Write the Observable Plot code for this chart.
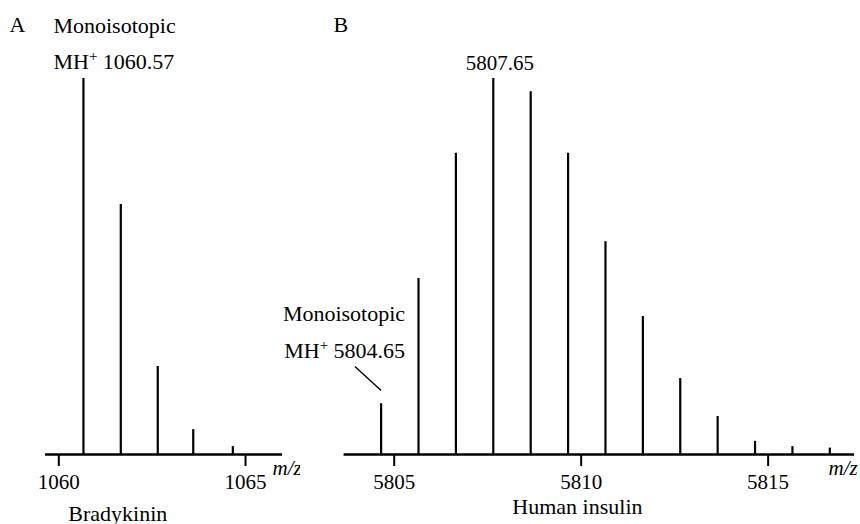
<!DOCTYPE html>
<html>
<head>
<meta charset="utf-8">
<script src="https://cdn.jsdelivr.net/npm/d3@7"></script>
<script src="https://cdn.jsdelivr.net/npm/@observablehq/plot@0.6"></script>
<style>
  html, body { margin: 0; padding: 0; background: #fff; }
  #wrap { position: relative; width: 860px; height: 524px; display: flex; }
  svg { display: block; }
  #wrap svg, #wrap svg text { font-family: "Liberation Serif", "Times New Roman", "DejaVu Serif", serif !important; }
</style>
</head>
<body>
<div id="wrap"></div>
<script>
// ---- Data ----
const bradyMz = [1060.66, 1061.66, 1062.65, 1063.60, 1064.66];
const bradyInt = [100, 66.5, 23.4, 6.6, 2.1];
const insulinMz = [5804.65, 5805.65, 5806.65, 5807.65, 5808.65, 5809.65, 5810.65, 5811.65, 5812.65, 5813.65, 5814.65, 5815.65, 5816.65];
const insulinInt = [13.5, 46.8, 80.1, 100, 96.5, 80.1, 56.6, 36.7, 20.2, 10.1, 3.5, 2.1, 1.7];
const ticksA = [1060, 1065];
const ticksB = [5805, 5810, 5815];
const domainA = [1059.644, 1065.99];
const domainB = [5803.66, 5817.31];
const panelLetters = ["A", "B"];
const compoundNames = ["Bradykinin", "Human insulin"];
const compoundNameAt = [1061.58, 5809.9];
const monoLabels = ["MH+ 1060.57", "MH+ 5804.65"];
const apexLabelB = "5807.65";
const leaderB = [{x1: 5803.95, y1: 23.4, x2: 5804.65, y2: 17.0}];

const A = bradyMz.map((mz, i) => ({mz, int: bradyInt[i]}));
const B = insulinMz.map((mz, i) => ({mz, int: insulinInt[i]}));

const FONT = "Liberation Serif, serif";
const common = {
  height: 524,
  marginTop: 78,
  marginBottom: 70,
  y: {domain: [0, 100], axis: null},
  style: {fontFamily: FONT, fontSize: "21px", background: "white", color: "black", overflow: "visible"}
};
const lineW = 2.2;

function axis(ticks) {
  return Plot.axisX({ticks, tickSize: 12, tickPadding: 8, strokeWidth: 2, fontSize: 21, label: null, tickFormat: d => String(d)});
}

const plotA = Plot.plot({
  ...common,
  width: 300,
  marginLeft: 45,
  marginRight: 18,
  x: {domain: domainA},
  marks: [
    Plot.ruleX(A, {x: "mz", y1: 0, y2: "int", strokeWidth: lineW, stroke: "black"}),
    Plot.ruleY([0], {strokeWidth: 2.3, stroke: "black"}),
    axis(ticksA),
    Plot.text([panelLetters[0]], {frameAnchor: "top-left", text: d => d, textAnchor: "start", lineAnchor: "bottom", dx: -36, dy: -47, fontSize: 22}),
    Plot.text([A[0]], {x: "mz", y: "int", text: () => "Monoisotopic", textAnchor: "start", lineAnchor: "bottom", dx: -30, dy: -45.7, fontSize: 22}),
    Plot.text([A[0]], {x: "mz", y: "int", text: () => monoLabels[0], textAnchor: "start", lineAnchor: "bottom", dx: -30, dy: -9.7, fontSize: 22}),
    Plot.text(["m/z"], {frameAnchor: "bottom-right", text: d => d, textAnchor: "start", lineAnchor: "bottom", dx: -10, dy: 20, fontStyle: "italic"}),
    Plot.text([compoundNames[0]], {x: () => compoundNameAt[0], frameAnchor: "bottom", text: d => d, textAnchor: "middle", lineAnchor: "bottom", dy: 66, fontSize: 22})
  ]
});

const plotB = Plot.plot({
  ...common,
  width: 560,
  marginLeft: 43.6,
  marginRight: 6,
  x: {domain: domainB},
  marks: [
    Plot.ruleX(B, {x: "mz", y1: 0, y2: "int", strokeWidth: lineW, stroke: "black"}),
    Plot.ruleY([0], {strokeWidth: 2.3, stroke: "black"}),
    axis(ticksB),
    Plot.link(leaderB, {x1: "x1", y1: "y1", x2: "x2", y2: "y2", stroke: "black", strokeWidth: 1.4}),
    Plot.text([panelLetters[1]], {frameAnchor: "top-left", text: d => d, textAnchor: "start", lineAnchor: "bottom", dx: -10.6, dy: -47, fontSize: 22}),
    Plot.text([B[3]], {x: "mz", y: "int", text: () => apexLabelB, textAnchor: "middle", lineAnchor: "bottom", dx: 6.5, dy: -8.7, fontSize: 21}),
    Plot.text([B[0]], {x: "mz", y: "int", text: () => "Monoisotopic", textAnchor: "end", lineAnchor: "bottom", dx: 24, dy: -83, fontSize: 22}),
    Plot.text([B[0]], {x: "mz", y: "int", text: () => monoLabels[1], textAnchor: "end", lineAnchor: "bottom", dx: 24, dy: -46, fontSize: 22}),
    Plot.text(["m/z"], {frameAnchor: "bottom-right", text: d => d, textAnchor: "start", lineAnchor: "bottom", dx: -26, dy: 20, fontStyle: "italic"}),
    Plot.text([compoundNames[1]], {x: () => compoundNameAt[1], frameAnchor: "bottom", text: d => d, textAnchor: "middle", lineAnchor: "bottom", dy: 59, fontSize: 22})
  ]
});

// superscript "+" in MH+ labels
function superPlus(svg) {
  svg.querySelectorAll("text").forEach(t => {
    const s = t.textContent;
    if (s.startsWith("MH+")) {
      const ns = "http://www.w3.org/2000/svg";
      t.textContent = "";
      const a = document.createElementNS(ns, "tspan"); a.textContent = "MH";
      const p = document.createElementNS(ns, "tspan"); p.textContent = "+";
      p.setAttribute("dy", "-8"); p.setAttribute("font-size", "15");
      const r = document.createElementNS(ns, "tspan"); r.textContent = s.slice(3);
      r.setAttribute("dy", "8");
      t.append(a, p, r);
    }
  });
}
superPlus(plotA);
superPlus(plotB);

const wrap = document.getElementById("wrap");
wrap.append(plotA, plotB);
</script>
</body>
</html>
